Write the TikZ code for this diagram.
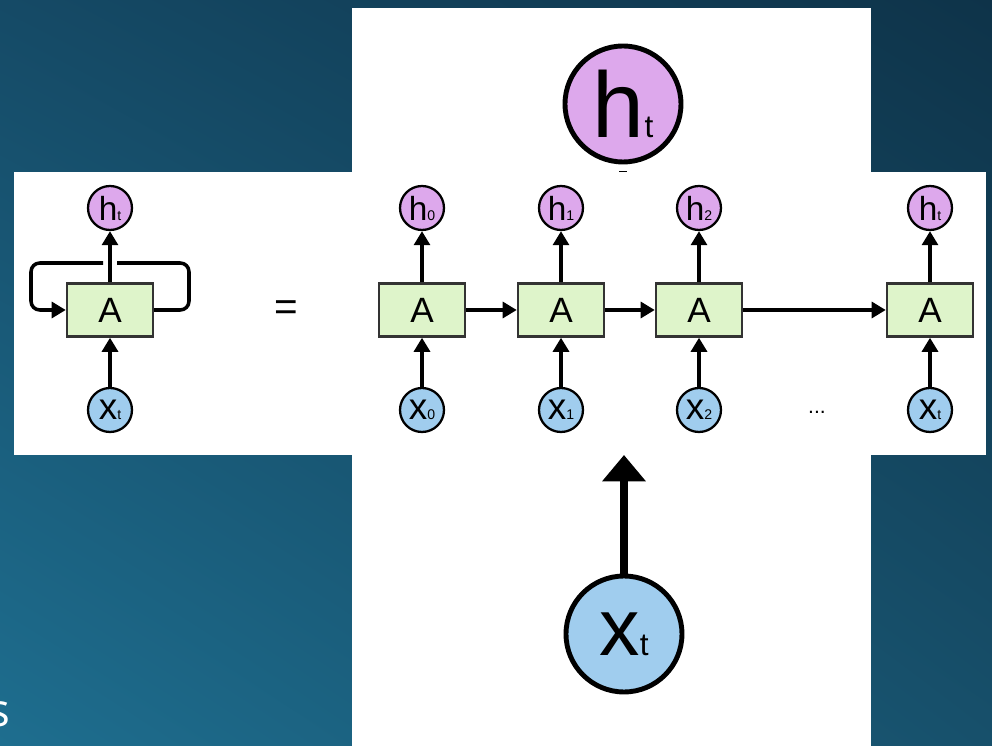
\documentclass[tikz,border=0pt]{standalone}
\usepackage{fontspec}
\setmainfont{Liberation Sans}
\newfontfamily\slidefont{Open Sans}
\usetikzlibrary{arrows.meta, shadings}

\definecolor{bgUL}{HTML}{154A66}
\definecolor{bgUR}{HTML}{0E3349}
\definecolor{bgLL}{HTML}{1E6E8F}
\definecolor{bgLR}{HTML}{17506B}
\definecolor{cellgreen}{HTML}{DEF4CA}
\definecolor{hpink}{HTML}{DDA8EC}
\definecolor{xblue}{HTML}{A0CDEE}

\newcommand{\subtxt}[1]{{\fontsize{8}{8}\selectfont #1}}
\newcommand{\bigsubtxt}[1]{{\fontsize{18}{18}\selectfont #1}}

\tikzset{
    cell/.style={draw=black!80, fill=cellgreen, line width=1.4pt, minimum width=1.72cm,
                 minimum height=1.06cm, inner sep=0pt, font=\fontsize{20}{20}\selectfont},
    hstate/.style={circle, draw=black, fill=hpink, line width=1.3pt, minimum size=0.88cm,
                   inner sep=0pt, font=\fontsize{19}{19}\selectfont},
    xinput/.style={hstate, fill=xblue, font=\fontsize{21}{21}\selectfont},
    flow/.style={line width=2pt, -{Triangle[length=8pt, width=9pt]}},
    bigflow/.style={line width=4.5pt, -{Triangle[length=15pt, width=24pt]}},
}

\begin{document}
\begin{tikzpicture}[x=0.02cm, y=-0.02cm]
        % Background:
        \useasboundingbox (0, 0) rectangle (992, 746);
        \shade[upper left=bgUL, upper right=bgUR, lower left=bgLL, lower right=bgLR]
            (0, 0) rectangle (992, 746);

        % Slide text, cut at the edge:
        \node[anchor=base east, inner sep=0pt, text=white, font=\slidefont\fontsize{26}{26}\selectfont]
            (slidetext) at (11, 727) {s};

        % Zoomed cell (behind):
        \fill[white] (352, 8) rectangle (871, 746);
        \node[hstate, minimum size=2.32cm, line width=2.8pt, font=\fontsize{53}{53}\selectfont]
            (hbig) at (623, 104) {h\bigsubtxt{t}};
        \node[xinput, minimum size=2.32cm, line width=2.8pt, font=\fontsize{46}{46}\selectfont]
            (xbig) at (624, 634) {x\bigsubtxt{t}};
        \coordinate (hcut) at (623, 176);
        \coordinate (xcut) at (624, 455);
        \draw[line width=4.5pt, shorten <=4pt] (hbig.south) -- (hcut);
        \draw[bigflow] (xbig.north) -- (xcut);

        % Unrolled network (front):
        \fill[white] (14, 172) rectangle (986, 455);

        % Folded cell with loop:
        \node[cell] (cellL) at (110, 310) {A};
        \node[hstate] (hL) at (110, 208) {h\subtxt{t}};
        \node[xinput] (xL) at (110, 410) {x\subtxt{t}};
        \draw[flow] (cellL) -- (hL);
        \draw[flow] (xL) -- (cellL);
        \coordinate (gapR) at (117, 263);
        \coordinate (gapL) at (103, 263);
        \draw[line width=2pt, rounded corners=5pt] (cellL.east) -| (189, 263) -- (gapR);
        \draw[flow, rounded corners=5pt] (gapL) -| (31, 310) -- (cellL.west);

        \node[font=\fontsize{23}{23}\selectfont] (eqsign) at (286, 311) {=};

        % Cells in time:
        \foreach \n/\x/\s in {0/422/0, 1/561/1, 2/699/2, 3/930/t} {
            \node[cell] (cell\n) at (\x, 310) {A};
            \node[hstate] (h\n) at (\x, 208) {h\subtxt{\s}};
            \node[xinput] (x\n) at (\x, 410) {x\subtxt{\s}};
            \draw[flow] (cell\n) -- (h\n);
            \draw[flow] (x\n) -- (cell\n);
        }
        \foreach \a/\b in {0/1, 1/2, 2/3}
            \draw[flow] (cell\a) -- (cell\b);

        \node[font=\fontsize{12}{12}\selectfont] (dots) at (817, 412) {...};
    \end{tikzpicture}
\end{document}
